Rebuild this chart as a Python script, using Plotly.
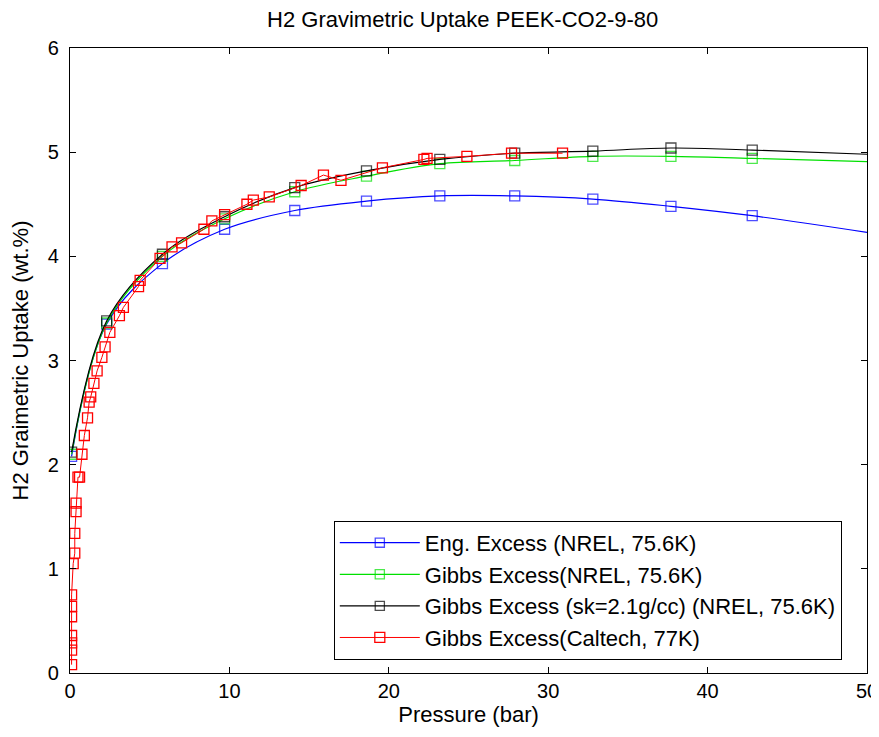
import plotly.graph_objects as go

# NREL pressure points (bar)
nrel_p = [0.1, 2.3, 5.8, 9.7, 14.1, 18.6, 23.2, 27.9, 32.8, 37.7, 42.8, 50.0]
eng_excess = [2.08, 3.35, 3.93, 4.26, 4.44, 4.53, 4.58, 4.58, 4.55, 4.48, 4.39, 4.23]
gibbs_nrel = [2.10, 3.36, 4.00, 4.36, 4.62, 4.77, 4.89, 4.92, 4.96, 4.96, 4.94, 4.91]
gibbs_sk = [2.12, 3.38, 4.02, 4.38, 4.66, 4.82, 4.93, 4.99, 5.01, 5.04, 5.02, 4.98]
# marker shown on each measured point; endpoint at 50 bar has no marker
nrel_marker = [10, 10, 10, 10, 10, 10, 10, 10, 10, 10, 10, 0]

# Caltech data
cal_p = [0.1, 0.1, 0.1, 0.1, 0.1, 0.1, 0.1, 0.2, 0.3, 0.3, 0.38, 0.38, 0.5, 0.6,
         0.75, 0.9, 1.1, 1.2, 1.3, 1.5, 1.7, 2.0, 2.2, 2.5, 3.1, 3.35, 4.3, 4.4,
         5.65, 6.4, 7.0, 8.4, 8.9, 9.7, 11.1, 11.5, 12.5, 14.5, 15.9, 17.0,
         19.6, 22.2, 22.4, 24.9, 27.7, 30.9]
cal_w = [0.08, 0.22, 0.29, 0.36, 0.54, 0.64, 0.75, 1.05, 1.15, 1.34, 1.55, 1.63, 1.88, 1.88,
         2.10, 2.28, 2.45, 2.60, 2.65, 2.78, 2.90, 3.03, 3.13, 3.27, 3.43, 3.51, 3.71, 3.77,
         3.98, 4.09, 4.13, 4.26, 4.34, 4.40, 4.50, 4.54, 4.57, 4.68, 4.78, 4.73,
         4.85, 4.93, 4.94, 4.96, 4.99, 4.99]

names = ["Eng. Excess (NREL, 75.6K)", "Gibbs Excess(NREL, 75.6K)",
         "Gibbs Excess (sk=2.1g/cc) (NREL, 75.6K)", "Gibbs Excess(Caltech, 77K)"]
colors = ["#0000ff", "#00e000", "#000000", "#ff0000"]

FONT = "Liberation Sans, Arial, sans-serif"

fig = go.Figure()
for i, (ys, nm, c) in enumerate(zip([eng_excess, gibbs_nrel, gibbs_sk], names[:3], colors[:3])):
    fig.add_trace(go.Scatter(
        x=nrel_p, y=ys, name=nm, mode="lines+markers",
        line=dict(color=c, width=1.2, shape="spline"),
        marker=dict(symbol="square-open", size=nrel_marker, color=c, line=dict(width=1.3)),
    ))
fig.add_trace(go.Scatter(
    x=cal_p, y=cal_w, name=names[3], mode="lines+markers",
    line=dict(color=colors[3], width=1.0),
    marker=dict(symbol="square-open", size=10, color=colors[3], line=dict(width=1.3)),
))

axis_common = dict(
    showline=True, linecolor="black", linewidth=1.2, mirror="ticks",
    ticks="inside", ticklen=6, tickcolor="black", tickwidth=1,
    showgrid=False, zeroline=False, automargin=False, ticklabeloverflow="allow",
    tickfont=dict(family=FONT, size=20, color="black"),
)

# page body has an 8px margin; figure is offset by (8, 8) in the page
fig.update_layout(
    width=871, height=721,
    margin=dict(l=62, r=12, t=40, b=56),
    paper_bgcolor="white", plot_bgcolor="white",
    title=dict(text="H2 Gravimetric Uptake PEEK-CO2-9-80", x=0.522, xanchor="center",
               y=0.985, yanchor="middle",
               font=dict(family=FONT, size=22, color="black")),
    xaxis=dict(range=[0, 50], dtick=10,
               title=dict(text="Pressure (bar)", standoff=0,
                          font=dict(family=FONT, size=22, color="black")),
               **axis_common),
    yaxis=dict(range=[0, 6], dtick=1, ticklabelstandoff=6,
               title=dict(text="H2 Graimetric Uptake (wt.%)",
                          font=dict(family=FONT, size=22, color="black")),
               **axis_common),
    legend=dict(x=0.331, y=0.021, xanchor="left", yanchor="bottom",
                bgcolor="white", bordercolor="black", borderwidth=1,
                font=dict(family=FONT, size=22, color="black"),
                itemwidth=80),
    showlegend=True,
)

fig.write_html("out.html")
